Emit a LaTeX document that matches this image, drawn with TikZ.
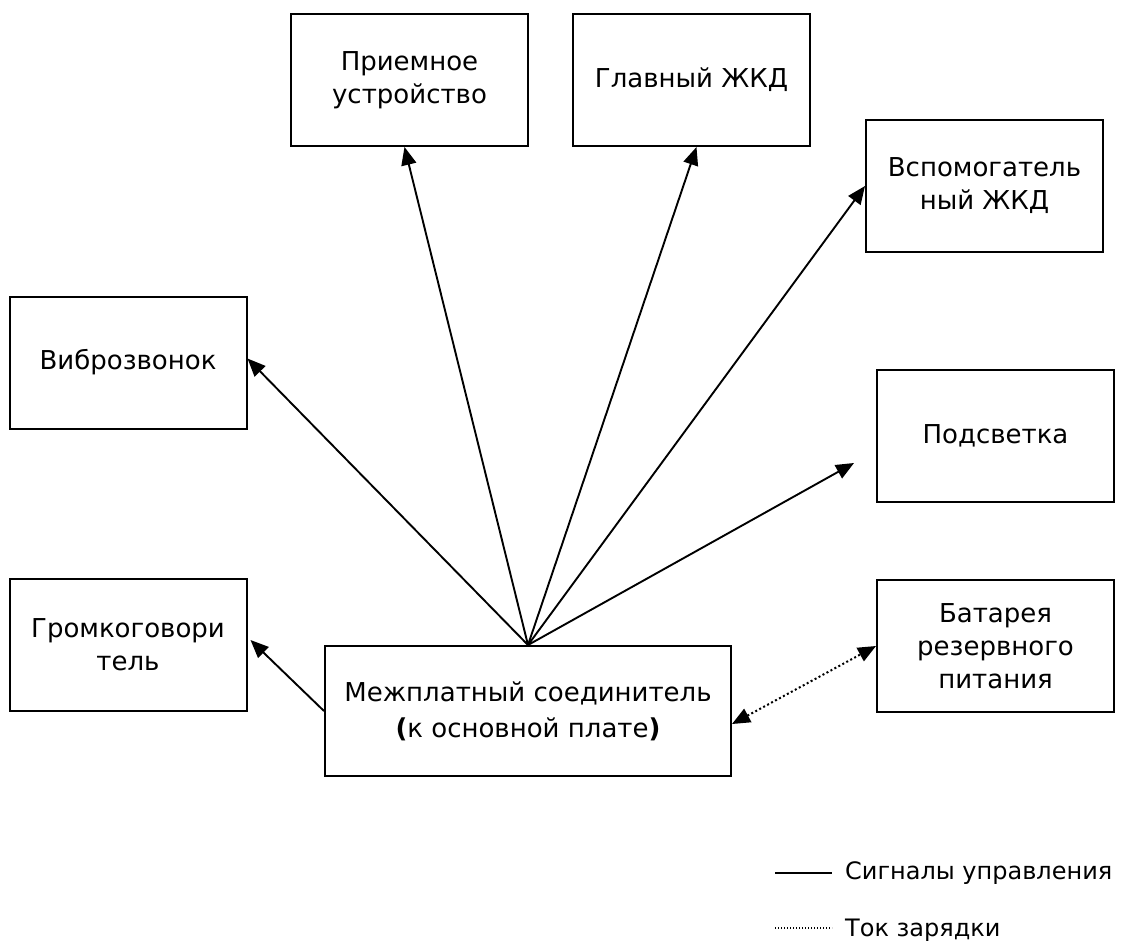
\documentclass[tikz,border=0pt]{standalone}
\usepackage{fontspec}
\setmainfont{DejaVu Sans}
\usetikzlibrary{arrows.meta}
\begin{document}
\begin{tikzpicture}[x=1pt,y=-1pt,
  block/.style={draw, line width=2pt, minimum width=237pt, minimum height=132pt,
    align=center, inner sep=0pt, font=\fontsize{26}{33}\selectfont},
  sig/.style={line width=1.9pt, -{Triangle[length=18pt,width=15pt]}},
  chg/.style={line width=2pt, dash pattern=on 2pt off 2.5pt,
    {Triangle[length=18pt,width=15pt]}-{Triangle[length=18pt,width=15pt]}},
  lbl/.style={anchor=west, inner sep=0pt, font=\fontsize{24}{30}\selectfont}]
\useasboundingbox (0,0) rectangle (1124,946);

% blocks
\node[block] (priem) at (409.5,80)  {Приемное\\устройство};
\node[block] (glav)  at (691.5,80)  {Главный ЖКД};
\node[block] (vsp)   at (984.5,186) {Вспомогатель\\ный ЖКД};
\node[block] (vib)   at (128,362.5) {Виброзвонок};
\node[block] (pods)  at (995.5,436) {Подсветка};
\node[block] (grom)  at (128,645)   {Громкоговори\\тель};
\node[block] (batt)  at (995.5,646) {Батарея\\резервного\\питания};
\node[block, minimum width=406pt, minimum height=130pt, font=\fontsize{26}{36}\selectfont]
  (conn) at (528,711) {Межплатный соединитель\\\textbf{(}к основной плате\textbf{)}};

% control signals
\coordinate (podsTip) at (854,463);
\draw[sig] (conn.north) -- ([xshift=-5pt]priem.south);
\draw[sig] (conn.north) -- ([xshift=5pt]glav.south);
\draw[sig] (conn.north) -- (vsp.west);
\draw[sig] (conn.north) -- ([yshift=4pt]vib.east);
\draw[sig] (conn.north) -- (podsTip);
\draw[sig] (conn.west) -- ([xshift=3pt,yshift=5pt]grom.east);

% charging current
\draw[chg] ([yshift=-13pt]conn.east) -- (batt.west);

% legend
\coordinate (l1a) at (775,873);
\coordinate (l1b) at (832,873);
\coordinate (l2a) at (775,928);
\coordinate (l2b) at (832,928);
\draw[line width=1.9pt] (l1a) -- (l1b);
\draw[line width=1.3pt, dash pattern=on 1.3pt off 1.7pt] (l2a) -- (l2b);
\node[lbl] (t1) at (845,873) {Сигналы управления};
\node[lbl] (t2) at (845,930) {Ток зарядки};
\end{tikzpicture}
\end{document}
